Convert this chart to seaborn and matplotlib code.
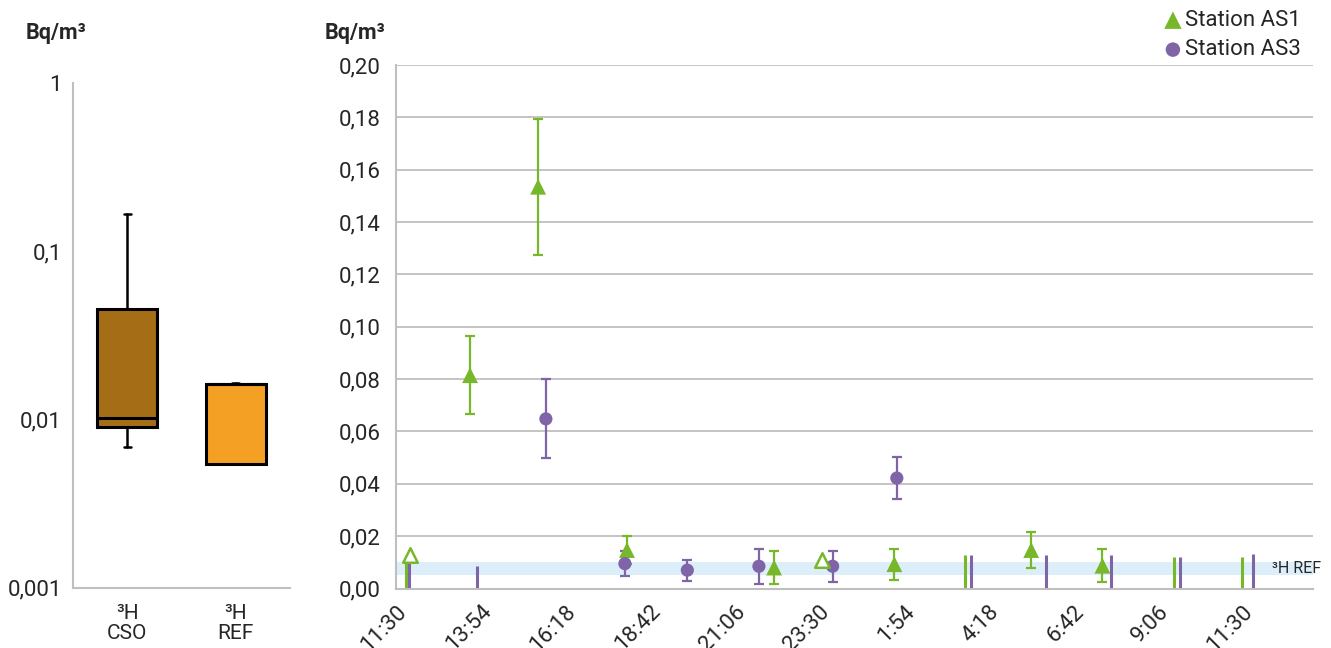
import numpy as np
import matplotlib
matplotlib.use("Agg")
import matplotlib.pyplot as plt
import seaborn as sns

# ---------------- data ----------------
box_labels = ["³H\nCSO", "³H\nREF"]
box_q1 = [0.00906, 0.00542]
box_med = [0.01025, 0.0162]
box_q3 = [0.0453, 0.0162]
box_lo = [0.00683, 0.00542]
box_hi = [0.166, 0.0164]
box_colors = ["#A66D17", "#F4A024"]

time_labels = ["11:30", "13:54", "16:18", "18:42", "21:06", "23:30",
               "1:54", "4:18", "6:42", "9:06", "11:30"]

# hours elapsed since 11:30
as1_hours = [2.10, 4.03, 6.55, 10.72, 14.13, 18.01, 20.03]
as1_vals = [0.0815, 0.1535, 0.0147, 0.0080, 0.0093, 0.0147, 0.0087]
as1_err = [0.0148, 0.0260, 0.0054, 0.0062, 0.0059, 0.0067, 0.0063]

as1_open_hours = [0.40, 12.09]
as1_open_vals = [0.0128, 0.0110]

as3_hours = [4.25, 6.49, 8.26, 10.29, 12.38, 14.20]
as3_vals = [0.0648, 0.0095, 0.0070, 0.0085, 0.0085, 0.0422]
as3_err = [0.0151, 0.0048, 0.0040, 0.0067, 0.0059, 0.0080]

as1_ld_hours = [0.28, 16.14, 22.05, 24.00]
as1_ld_vals = [0.0125, 0.0128, 0.0119, 0.0119]
as3_ld_hours = [0.38, 2.29, 16.31, 18.44, 20.28, 22.24, 24.29]
as3_ld_vals = [0.0120, 0.0087, 0.0128, 0.0128, 0.0128, 0.0119, 0.0130]

ref_band = [0.0052, 0.0101]

GREEN = "#77B82A"
PURPLE = "#8064A8"
GRAY = "#BFBFBF"

# ---------------- style ----------------
sns.set_theme(style="white")
plt.rcParams["font.family"] = ["Roboto", "DejaVu Sans"]
FS = 16

fig = plt.figure(figsize=(13.31, 6.48), dpi=100)
axL = fig.add_axes([73 / 1331, 1 - 587.5 / 648, (290 - 73) / 1331, (587.5 - 83) / 648])
axR = fig.add_axes([396 / 1331, 1 - 588.5 / 648, (1313 - 396) / 1331, (588.5 - 65) / 648])

# ---------------- left: box plot ----------------
stats = []
for i in range(len(box_labels)):
    stats.append(dict(med=box_med[i], q1=box_q1[i], q3=box_q3[i],
                      whislo=box_lo[i], whishi=box_hi[i], label=box_labels[i]))
bp = axL.bxp(stats, positions=[1, 2], widths=0.55, patch_artist=True,
             showfliers=False, capwidths=0.06,
             boxprops=dict(linewidth=2.2, edgecolor="black"),
             medianprops=dict(color="black", linewidth=2.2),
             whiskerprops=dict(color="black", linewidth=1.8),
             capprops=dict(color="black", linewidth=1.8))
for patch, c in zip(bp["boxes"], box_colors):
    patch.set_facecolor(c)
axL.set_yscale("log")
axL.set_ylim(0.001, 1)
axL.set_xlim(0.5, 2.5)
axL.yaxis.set_major_locator(matplotlib.ticker.FixedLocator([0.001, 0.01, 0.1, 1]))
axL.yaxis.set_major_formatter(matplotlib.ticker.FixedFormatter(["0,001", "0,01", "0,1", "1"]))
axL.yaxis.set_minor_locator(matplotlib.ticker.NullLocator())
axL.set_xticks([0.5, 1.5, 2.5])
axL.set_xticklabels([])
axL.set_xticks([1, 2], minor=True)
axL.set_xticklabels(box_labels, minor=True, fontsize=15, linespacing=1.05)
axL.tick_params(axis="x", which="minor", length=0, pad=12)
axL.tick_params(axis="x", which="major", direction="out", length=5, color=GRAY, width=1.3)
axL.tick_params(axis="y", which="major", direction="out", length=5, color=GRAY, width=1.3,
                labelsize=FS, pad=3)
for s in ["top", "right"]:
    axL.spines[s].set_visible(False)
for s in ["left", "bottom"]:
    axL.spines[s].set_color(GRAY)
    axL.spines[s].set_linewidth(1.5)
axL.grid(False)

# ---------------- right: time series ----------------
axR.axhspan(ref_band[0], ref_band[1], color="#DCEEFA", zorder=0.5, lw=0)
axR.text(24.85, (ref_band[0] + ref_band[1]) / 2, "³H REF", fontsize=11.5,
         va="center", ha="left", zorder=1)

axR.vlines(as1_ld_hours, 0, as1_ld_vals, color=GREEN, lw=2.2, zorder=2)
axR.vlines(as3_ld_hours, 0, as3_ld_vals, color=PURPLE, lw=2.2, zorder=2)

axR.errorbar(as1_hours, as1_vals, yerr=as1_err, fmt="none", ecolor=GREEN,
             elinewidth=1.6, capsize=3.5, capthick=1.6, zorder=2)
axR.errorbar(as3_hours, as3_vals, yerr=as3_err, fmt="none", ecolor=PURPLE,
             elinewidth=1.6, capsize=3.5, capthick=1.6, zorder=2)

sns.scatterplot(x=as1_hours, y=as1_vals, marker="^", color=GREEN, s=130,
                edgecolor="none", ax=axR, label="Station AS1", zorder=3)
sns.scatterplot(x=as3_hours, y=as3_vals, marker="o", color=PURPLE, s=90,
                edgecolor="none", ax=axR, label="Station AS3", zorder=3)
sns.scatterplot(x=as1_open_hours, y=as1_open_vals, marker="^", s=110,
                facecolor="white", edgecolor=GREEN, linewidth=1.8, ax=axR,
                zorder=3, legend=False)

axR.set_xlim(0, 26)
axR.set_ylim(0, 0.20)
yt = np.round(np.arange(0, 0.2001, 0.02), 2)
axR.set_yticks(yt)
axR.set_yticklabels([f"{v:.2f}".replace(".", ",") for v in yt])
xt = np.arange(len(time_labels)) * 2.4
axR.set_xticks(xt)
axR.set_xticklabels(time_labels, rotation=45, ha="right", rotation_mode="anchor")
axR.set_xticks(np.arange(0, 26.01, 0.48), minor=True)
axR.tick_params(axis="both", which="both", direction="out", length=5, color=GRAY,
                width=1.3, labelsize=FS)
axR.tick_params(axis="y", which="major", pad=6)
axR.tick_params(axis="x", which="major", pad=4)
axR.grid(axis="y", color=GRAY, lw=1.3, zorder=0)
axR.set_axisbelow(True)
for s in ["top", "right"]:
    axR.spines[s].set_visible(False)
for s in ["left", "bottom"]:
    axR.spines[s].set_color(GRAY)
    axR.spines[s].set_linewidth(1.5)

leg = axR.legend(loc="upper right", bbox_to_anchor=(1301 / 1331, 1 - 10 / 648),
                 bbox_transform=fig.transFigure, frameon=False, fontsize=FS,
                 handletextpad=0.05, handlelength=1.0, labelspacing=0.38,
                 borderaxespad=0, borderpad=0, markerscale=1.1)

fig.text(26 / 1331, 1 - 33 / 648, "Bq/m³", fontsize=15.5, weight="bold", va="center")
fig.text(325 / 1331, 1 - 33 / 648, "Bq/m³", fontsize=15.5, weight="bold", va="center")

fig.savefig("out.png", dpi=100)
